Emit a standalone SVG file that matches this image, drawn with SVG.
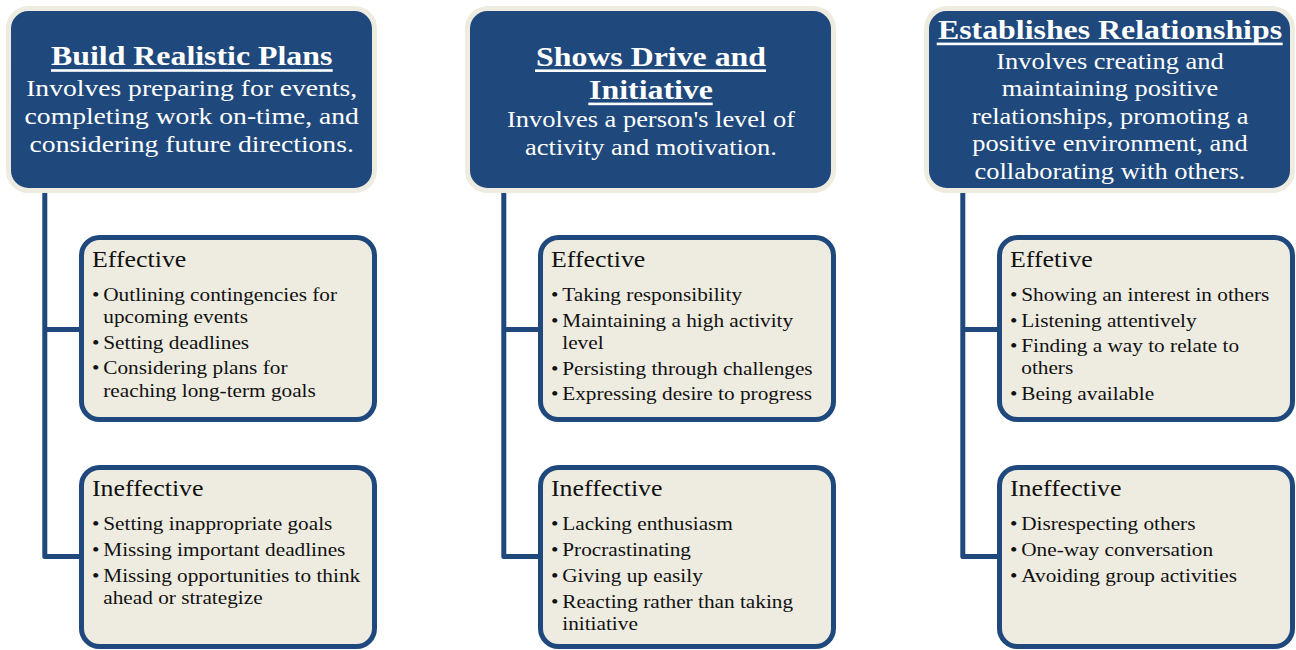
<svg xmlns="http://www.w3.org/2000/svg" width="1296" height="650" viewBox="0 0 1296 650">
  <style>
    .hdr { fill: #1F497D; stroke: #EEECE1; stroke-width: 5; }
    .box { fill: #EEECE1; stroke: #1F497D; stroke-width: 5; }
    .wire { fill: none; stroke: #1F497D; stroke-width: 5; stroke-linejoin: round; }
    .ul { fill: #FFFFFF; }
    text { font-family: "Liberation Serif", "Times New Roman", serif; }
    .ttl { font-weight: bold; font-size: 27.7px; fill: #FFFFFF; text-anchor: middle; }
    .dsc { font-size: 24px; fill: #FFFFFF; text-anchor: middle; }
    .dsc2 { font-size: 23px; fill: #FFFFFF; text-anchor: middle; }
    .hd { font-size: 22.5px; fill: #111111; }
    .li { font-size: 18.5px; fill: #111111; }
  </style>
  <rect width="1296" height="650" fill="#FFFFFF"/>

  <!-- trunk lines from each header down to its two detail boxes -->
  <g id="connectors">
    <path class="wire" d="M44.8,192 V556.5 H81 M44.8,329.5 H81"/>
    <path class="wire" d="M503.8,192 V556.5 H540 M503.8,329.5 H540"/>
    <path class="wire" d="M962.8,192 V556.5 H999 M962.8,329.5 H999"/>
  </g>

  <!-- column 1 -->
  <g id="plans">
    <rect class="hdr" x="8.5" y="8.5" width="366" height="182" rx="20"/>
    <rect class="ul" x="51" y="69.2" width="281.7" height="2.6"/>
    <g transform="translate(191.7,0) scale(1.15,1)">
      <text class="ttl" x="0" y="65">Build Realistic Plans</text>
      <text class="dsc" x="0" y="96.5">Involves preparing for events,</text>
      <text class="dsc" x="0" y="124.5">completing work on-time, and</text>
      <text class="dsc" x="0" y="152.5">considering future directions.</text>
    </g>
  </g>
  <g id="plans-effective">
    <rect class="box" x="81.5" y="237.5" width="293" height="182" rx="18"/>
    <g transform="translate(92,0) scale(1.15,1)">
      <text class="hd" x="0" y="267.3">Effective</text>
      <text class="li" x="0" y="301">•</text><text class="li" x="9.8" y="301">Outlining contingencies for</text>
      <text class="li" x="9.8" y="323.5">upcoming events</text>
      <text class="li" x="0" y="349">•</text><text class="li" x="9.8" y="349">Setting deadlines</text>
      <text class="li" x="0" y="374.5">•</text><text class="li" x="9.8" y="374.5">Considering plans for</text>
      <text class="li" x="9.8" y="397">reaching long-term goals</text>
    </g>
  </g>
  <g id="plans-ineffective">
    <rect class="box" x="81.5" y="467.5" width="293" height="179" rx="18"/>
    <g transform="translate(92,0) scale(1.15,1)">
      <text class="hd" x="0" y="496">Ineffective</text>
      <text class="li" x="0" y="530">•</text><text class="li" x="9.8" y="530">Setting inappropriate goals</text>
      <text class="li" x="0" y="556">•</text><text class="li" x="9.8" y="556">Missing important deadlines</text>
      <text class="li" x="0" y="582">•</text><text class="li" x="9.8" y="582">Missing opportunities to think</text>
      <text class="li" x="9.8" y="604.5">ahead or strategize</text>
    </g>
  </g>

  <!-- column 2 -->
  <g id="drive">
    <rect class="hdr" x="467.5" y="8.5" width="366" height="182" rx="20"/>
    <rect class="ul" x="535" y="69.4" width="231" height="2.6"/>
    <rect class="ul" x="588.3" y="102.6" width="124.4" height="2.6"/>
    <g transform="translate(651,0) scale(1.15,1)">
      <text class="ttl" x="0" y="65.7">Shows Drive and</text>
      <text class="ttl" x="0" y="99">Initiative</text>
      <text class="dsc2" x="0" y="127">Involves a person's level of</text>
      <text class="dsc2" x="0" y="155">activity and motivation.</text>
    </g>
  </g>
  <g id="drive-effective">
    <rect class="box" x="540.5" y="237.5" width="293" height="182" rx="18"/>
    <g transform="translate(551,0) scale(1.15,1)">
      <text class="hd" x="0" y="267.3">Effective</text>
      <text class="li" x="0" y="301.5">•</text><text class="li" x="9.8" y="301.5">Taking responsibility</text>
      <text class="li" x="0" y="326.7">•</text><text class="li" x="9.8" y="326.7">Maintaining a high activity</text>
      <text class="li" x="9.8" y="349">level</text>
      <text class="li" x="0" y="375">•</text><text class="li" x="9.8" y="375">Persisting through challenges</text>
      <text class="li" x="0" y="400.5">•</text><text class="li" x="9.8" y="400.5">Expressing desire to progress</text>
    </g>
  </g>
  <g id="drive-ineffective">
    <rect class="box" x="540.5" y="467.5" width="293" height="179" rx="18"/>
    <g transform="translate(551,0) scale(1.15,1)">
      <text class="hd" x="0" y="496">Ineffective</text>
      <text class="li" x="0" y="530">•</text><text class="li" x="9.8" y="530">Lacking enthusiasm</text>
      <text class="li" x="0" y="556">•</text><text class="li" x="9.8" y="556">Procrastinating</text>
      <text class="li" x="0" y="582">•</text><text class="li" x="9.8" y="582">Giving up easily</text>
      <text class="li" x="0" y="608">•</text><text class="li" x="9.8" y="608">Reacting rather than taking</text>
      <text class="li" x="9.8" y="630">initiative</text>
    </g>
  </g>

  <!-- column 3 -->
  <g id="relationships">
    <rect class="hdr" x="926.5" y="8.5" width="366" height="182" rx="20"/>
    <rect class="ul" x="936.7" y="42.6" width="346" height="2.6"/>
    <g transform="translate(1110,0) scale(1.15,1)">
      <text class="ttl" x="0" y="39.5">Establishes Relationships</text>
      <text class="dsc2" x="0" y="69">Involves creating and</text>
      <text class="dsc2" x="0" y="96.5">maintaining positive</text>
      <text class="dsc2" x="0" y="124">relationships, promoting a</text>
      <text class="dsc2" x="0" y="151.5">positive environment, and</text>
      <text class="dsc2" x="0" y="179">collaborating with others.</text>
    </g>
  </g>
  <g id="relationships-effective">
    <rect class="box" x="999.5" y="237.5" width="293" height="182" rx="18"/>
    <g transform="translate(1010,0) scale(1.15,1)">
      <text class="hd" x="0" y="267.3">Effetive</text>
      <text class="li" x="0" y="301.5">•</text><text class="li" x="9.8" y="301.5">Showing an interest in others</text>
      <text class="li" x="0" y="326.7">•</text><text class="li" x="9.8" y="326.7">Listening attentively</text>
      <text class="li" x="0" y="352.5">•</text><text class="li" x="9.8" y="352.5">Finding a way to relate to</text>
      <text class="li" x="9.8" y="374.5">others</text>
      <text class="li" x="0" y="400">•</text><text class="li" x="9.8" y="400">Being available</text>
    </g>
  </g>
  <g id="relationships-ineffective">
    <rect class="box" x="999.5" y="467.5" width="293" height="179" rx="18"/>
    <g transform="translate(1010,0) scale(1.15,1)">
      <text class="hd" x="0" y="496">Ineffective</text>
      <text class="li" x="0" y="530">•</text><text class="li" x="9.8" y="530">Disrespecting others</text>
      <text class="li" x="0" y="556">•</text><text class="li" x="9.8" y="556">One-way conversation</text>
      <text class="li" x="0" y="582">•</text><text class="li" x="9.8" y="582">Avoiding group activities</text>
    </g>
  </g>
</svg>
